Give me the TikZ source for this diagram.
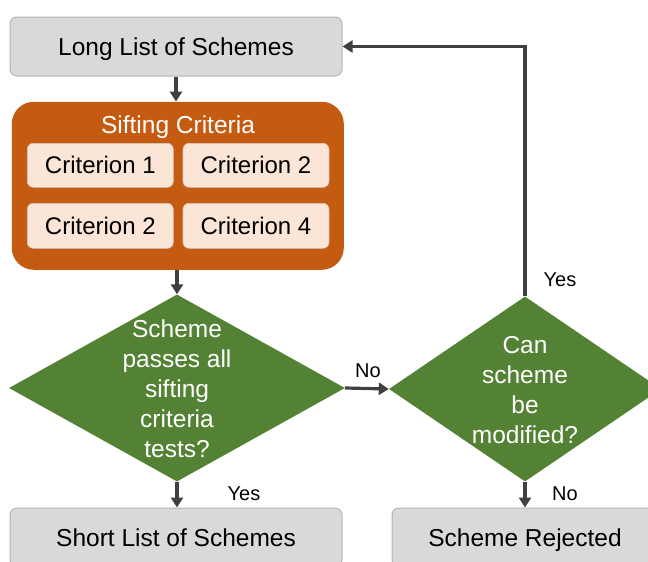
\documentclass[tikz,border=0pt]{standalone}
\usepackage{fontspec}
\setmainfont{Liberation Sans}
\usetikzlibrary{shapes.geometric,arrows.meta}
\definecolor{boxgray}{HTML}{D9D9D9}
\definecolor{boxline}{HTML}{B4B4B4}
\definecolor{siftorange}{HTML}{C55A11}
\definecolor{peach}{HTML}{FBE5D6}
\definecolor{leaf}{HTML}{548235}
\definecolor{ink}{HTML}{404040}
\tikzset{
  graybox/.style={draw=boxline, line width=1pt, fill=boxgray, rounded corners=7pt,
    minimum width=332pt, minimum height=59pt, inner sep=0pt,
    text height=17.6pt, text depth=0pt,
    font=\fontsize{24.5}{30}\selectfont, text=black},
  critbox/.style={draw=boxline!60!peach, line width=0.6pt, fill=peach, rounded corners=6pt,
    minimum width=146pt, minimum height=44pt, inner sep=0pt,
    text height=17.3pt, text depth=0pt,
    font=\fontsize{24}{30}\selectfont, text=black},
  decision/.style={diamond, fill=leaf, inner sep=0pt},
  dtext/.style={align=center, text=white, font=\fontsize{24.5}{30}\selectfont, inner sep=0pt},
  lbl/.style={font=\fontsize{20}{24}\selectfont, text=black, inner sep=0pt,
    text height=14.3pt, text depth=0pt},
  flow/.style={draw=ink, line width=3.2pt, -{Triangle[width=12pt,length=10pt]}},
}
\begin{document}
\begin{tikzpicture}[x=1pt,y=-1pt]
\useasboundingbox (0,0) rectangle (648,562);
\clip (0,0) rectangle (648,562);
% top box
\node[graybox] (ll) at (176,46.5) {Long List of Schemes};
% sifting criteria
\node[fill=siftorange, rounded corners=22pt, minimum width=332pt, minimum height=168pt, inner sep=0pt] (sc) at (177.8,185.8) {};
\node[text=white, font=\fontsize{24.5}{30}\selectfont, inner sep=0pt,
  text height=17.6pt, text depth=0pt] (sct) at (178,125) {Sifting Criteria};
\node[critbox] (c1) at (100.3,165.3) {Criterion 1};
\node[critbox] (c2) at (256,165.3) {Criterion 2};
\node[critbox, minimum height=45pt] (c3) at (100.3,225.8) {Criterion 2};
\node[critbox, minimum height=45pt] (c4) at (256,225.8) {Criterion 4};
% decisions
\node[decision, minimum width=336pt, minimum height=187pt] (d1) at (177,388) {};
\node[dtext] (d1t) at (177,389) {Scheme\\passes all\\sifting\\criteria\\tests?};
\node[decision, minimum width=272pt, minimum height=185pt] (d2) at (525,389) {};
\node[dtext] (d2t) at (525,390) {Can\\scheme\\be\\modified?};
% bottom boxes
\node[graybox] (sl) at (176,537.5) {Short List of Schemes};
\node[graybox, minimum width=266pt] (rj) at (525,537.5) {Scheme Rejected};
% connectors
\draw[flow] (ll.south) -- (ll.south |- sc.north);
\draw[flow] (sc.south -| d1.north) -- (d1.north);
\draw[flow] (d1.south) -- (d1.south |- sl.north);
\draw[flow] (d1.east) -- (d2.west);
\draw[flow] (d2.south) -- (d2.south |- rj.north);
\draw[flow] (d2.north) |- (ll.east);
% labels
\node[lbl] (ly1) at (560,279) {Yes};
\node[lbl] (ln1) at (368,370) {No};
\node[lbl] (ly2) at (244,493) {Yes};
\node[lbl] (ln2) at (565,493) {No};
\end{tikzpicture}
\end{document}
